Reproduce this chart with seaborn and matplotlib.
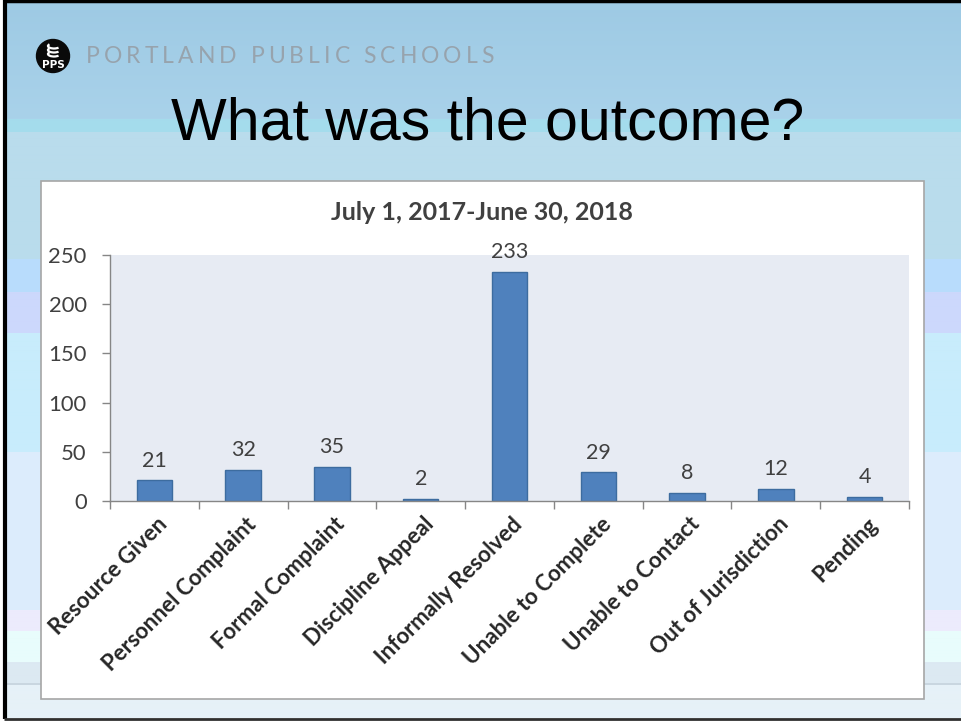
import numpy as np
import pandas as pd
import matplotlib
matplotlib.use("Agg")
import matplotlib.pyplot as plt
import matplotlib.transforms as mtransforms
from matplotlib.patches import Rectangle, Circle, Arc
import seaborn as sns

# Case outcomes for the reporting year
categories = [
    "Resource Given", "Personnel Complaint", "Formal Complaint",
    "Discipline Appeal", "Informally Resolved", "Unable to Complete",
    "Unable to Contact", "Out of Jurisdiction", "Pending",
]
counts = [21, 32, 35, 2, 233, 29, 8, 12, 4]
y_ticks = [0, 50, 100, 150, 200, 250]

chart_title = "July 1, 2017-June 30, 2018"
slide_title = "What was the outcome?"
org_name = "PORTLAND PUBLIC SCHOOLS"

sns.set_style("white")
plt.rcParams["font.family"] = ["Lato", "DejaVu Sans"]

W, H = 961, 721
fig = plt.figure(figsize=(W / 100, H / 100), dpi=100)
fig.patch.set_facecolor("white")

# ---- slide background (pixel coordinates, y downwards) ----
bg = fig.add_axes([0, 0, 1, 1])
bg.set_xlim(0, W)
bg.set_ylim(H, 0)
bg.axis("off")

bands = [
    (2, 119, "#9ecae4", "#a9d2ea"),
    (119, 132, "#a4dcec", "#a4dcec"),
    (132, 259, "#b9dcec", "#b9dcec"),
    (259, 292, "#b8dcfc", "#b8dcfc"),
    (292, 333, "#ccd8fc", "#ccd8fc"),
    (333, 452, "#c8ecfc", "#c8ecfc"),
    (452, 610, "#dcecfc", "#dcecfc"),
    (610, 631, "#ecebfc", "#ecebfc"),
    (631, 662, "#e8fcfc", "#e8fcfc"),
    (662, 683, "#dce9f2", "#dce9f2"),
    (683, 685, "#c9d6e0", "#c9d6e0"),
    (685, 718, "#e6f1f8", "#e6f1f8"),
]
img = np.ones((H, 1, 3))
for y0, y1, c0, c1 in bands:
    a = np.array(matplotlib.colors.to_rgb(c0))
    b = np.array(matplotlib.colors.to_rgb(c1))
    n = y1 - y0
    t = np.linspace(0, 1, n)[:, None]
    img[y0:y1, 0, :] = a * (1 - t) + b * t
bg.imshow(img, extent=(5, W, H, 0), aspect="auto", interpolation="nearest", zorder=0)

# slide frame
bg.plot([4.5, 4.5], [0, 719], color="black", lw=3, zorder=2, solid_capstyle="butt")
bg.plot([4, W], [1, 1], color="black", lw=2.5, zorder=2, solid_capstyle="butt")
bg.plot([4, W], [718.5, 718.5], color="#303030", lw=2, zorder=2, solid_capstyle="butt")

# logo
bg.add_patch(Circle((53, 56), 16.5, color="#0a0a0a", zorder=3))
for k, yy in enumerate([46, 50, 54]):
    bg.add_patch(Arc((54, yy), 12, 5, theta1=20, theta2=200, color="white", lw=1.6, zorder=4))
bg.text(53, 65, "PPS", color="white", fontsize=7.5, fontweight="bold",
        ha="center", va="center", family=["DejaVu Sans"], zorder=4)

# letter-spaced organisation name
renderer = fig.canvas.get_renderer()
name_kw = dict(fontsize=16.5, color="#97a3ad", va="baseline", ha="left",
               family=["Lato", "DejaVu Sans"], fontweight="normal", zorder=3)
x_start, x_end, base_y = 86, 494, 63
widths = []
for ch in org_name:
    if ch == " ":
        widths.append(None)
        continue
    t = bg.text(0, base_y, ch, **name_kw)
    widths.append(t.get_window_extent(renderer).width)
    t.remove()
space_w = 6.0
n_gaps = len(org_name) - 1
natural = sum(w if w is not None else space_w for w in widths)
gap = (x_end - x_start - natural) / n_gaps
x = x_start
for ch, w in zip(org_name, widths):
    if w is None:
        x += space_w + gap
        continue
    bg.text(x, base_y, ch, **name_kw)
    x += w + gap

# slide title
bg.text(488, 124, slide_title, fontsize=42.5, color="black", ha="center", va="center",
        family=["Liberation Sans", "DejaVu Sans"], zorder=3)

# chart panel
bg.add_patch(Rectangle((41, 181), 883, 518, facecolor="white", edgecolor="#a6a6a6",
                       lw=1.2, zorder=3))
bg.text(482, 212, chart_title, fontsize=18, fontweight="bold", color="#404040",
        ha="center", va="center", zorder=4)

# ---- bar chart ----
px_l, px_r, px_t, px_b = 110, 909, 255, 501
ax = fig.add_axes([px_l / W, 1 - px_b / H, (px_r - px_l) / W, (px_b - px_t) / H], zorder=5)
ax.set_facecolor("#e7ebf3")

df = pd.DataFrame({"Outcome": categories, "Count": counts})
sns.barplot(data=df, x="Outcome", y="Count", color="#4f81bd", width=0.4,
            edgecolor="#3d6c9f", linewidth=1.0, saturation=1, ax=ax)

ax.set_xlim(-0.5, len(categories) - 0.5)
ax.set_ylim(0, 250)
ax.set_yticks(y_ticks)
ax.set_yticklabels([str(v) for v in y_ticks])
ax.set_xlabel("")
ax.set_ylabel("")

for c in ax.containers:
    ax.bar_label(c, labels=[str(v) for v in counts], padding=7, fontsize=15.5, color="#404040")

for s in ["top", "right"]:
    ax.spines[s].set_visible(False)
for s in ["left", "bottom"]:
    ax.spines[s].set_visible(True)
    ax.spines[s].set_color("#868686")
    ax.spines[s].set_linewidth(1.0)

ax.tick_params(axis="y", which="major", left=True, length=5.8, width=1.0, color="#868686",
               labelsize=15.8, labelcolor="#404040", pad=11, direction="out")
ax.set_xticks(np.arange(-0.5, len(categories), 1.0), minor=True)
ax.tick_params(axis="x", which="minor", bottom=True, length=5.5, width=1.0, color="#868686",
               direction="out")
ax.tick_params(axis="x", which="major", bottom=False, length=0, pad=9,
               labelsize=16, labelcolor="#262626")
ax.set_xticks(range(len(categories)))
ax.set_xticklabels(categories, rotation=45, ha="right", rotation_mode="anchor",
                   fontweight="bold")
shift = mtransforms.ScaledTranslation(2 / 100, 0, fig.dpi_scale_trans)
for lab in ax.get_xticklabels():
    lab.set_transform(lab.get_transform() + shift)

fig.savefig("out.png", dpi=100)
